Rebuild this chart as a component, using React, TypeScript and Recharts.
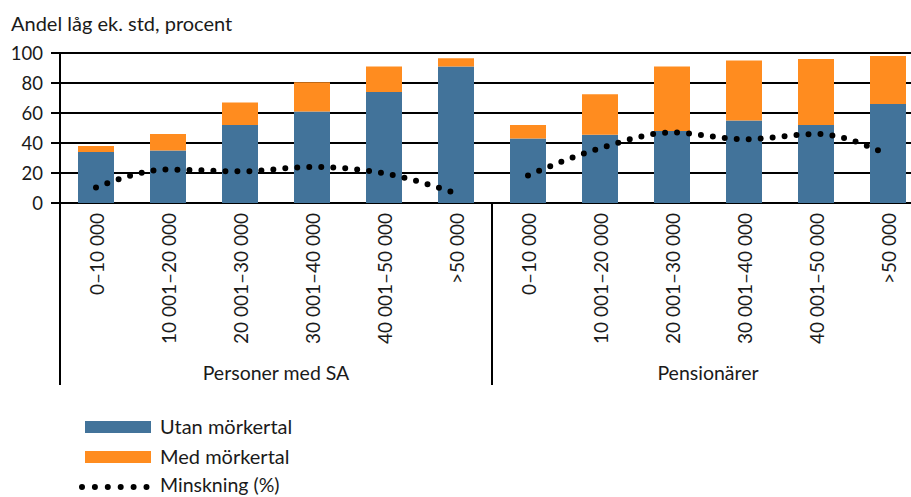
import React from 'react';
import { ComposedChart, Bar, Line, XAxis, YAxis, CartesianGrid, Legend } from 'recharts';

const categories = [
  '0–10 000', '10 001–20 000', '20 001–30 000', '30 001–40 000', '40 001–50 000', '>50 000',
  '0–10 000', '10 001–20 000', '20 001–30 000', '30 001–40 000', '40 001–50 000', '>50 000',
];
const groupNames = ['Personer med SA', 'Pensionärer'];
const utanMorkertal = [34, 35, 52, 61, 74, 91, 43, 45.5, 48, 55, 52, 66];
const medMorkertal = [4, 11, 15, 19.5, 17, 5.5, 9, 27, 43, 40, 44, 32];
const minskningSA = [10.4, 22.3, 21.1, 24, 19.8, 6.5];
const minskningPension = [18.4, 36.5, 47, 42.5, 46, 32.3];
const yTicks = [0, 20, 40, 60, 80, 100];
const groupTicks = [0, 3, 6, 9];

const FONT = 'Lato, sans-serif';
const BLUE = '#42739A';
const ORANGE = '#FF8C1F';

const data = categories.map((cat, i) => ({
  key: `c${i}`,
  cat,
  idx: i + 0.5,
  utan: utanMorkertal[i],
  med: medMorkertal[i],
  minSA: i < 6 ? minskningSA[i] : null,
  minPen: i >= 6 ? minskningPension[i - 6] : null,
}));

const CatTick = (props: any) => {
  const { x, y, index } = props;
  return (
    <text
      transform={`translate(${x},${y + 10}) rotate(-90)`}
      textAnchor="end"
      dominantBaseline="central"
      fontFamily={FONT}
      fontSize={19}
      fill="#1a1a1a"
    >
      {categories[index]}
    </text>
  );
};

const GroupTick = (props: any) => {
  const { x, y, payload } = props;
  const v = payload.value;
  if (v === 0 || v === 6) {
    return <line x1={x} x2={x} y1={y - 150} y2={y + 32} stroke="#000" strokeWidth={2} />;
  }
  const name = v === 3 ? groupNames[0] : groupNames[1];
  return (
    <text x={x} y={y + 27} textAnchor="middle" fontFamily={FONT} fontSize={19.5} fill="#1a1a1a">
      {name}
    </text>
  );
};

const LegendBox = () => (
  <svg width={400} height={87} style={{ display: 'block' }}>
    <rect x={85} y={11} width={66} height={12} fill={BLUE} />
    <text x={160} y={24} fontFamily={FONT} fontSize={20} fill="#1a1a1a">Utan mörkertal</text>
    <rect x={85} y={41} width={66} height={12} fill={ORANGE} />
    <text x={160} y={54} fontFamily={FONT} fontSize={20} fill="#1a1a1a">Med mörkertal</text>
    <line x1={82} x2={147} y1={77} y2={77} stroke="#000" strokeWidth={6} strokeLinecap="round" strokeDasharray="0 12.9" />
    <text x={160} y={82} fontFamily={FONT} fontSize={19.5} fill="#1a1a1a">Minskning (%)</text>
  </svg>
);

export default function App() {
  return (
    <div style={{ position: 'absolute', left: 0, top: 0, width: 911, height: 497, overflow: 'hidden', background: '#fff' }}>
      <div style={{ position: 'absolute', left: 11, top: 10, fontFamily: FONT, fontSize: 20, color: '#1a1a1a', whiteSpace: 'nowrap', lineHeight: '26px', zIndex: 2 }}>
        Andel låg ek. std, procent
      </div>
      <ComposedChart
        width={924}
        height={497}
        data={data}
        margin={{ top: 53, right: 0, bottom: 0, left: 0 }}
        barSize={36}
      >
        <CartesianGrid horizontal vertical={false} stroke="#000" strokeWidth={2} />
        <XAxis
          xAxisId="cat"
          dataKey="key"
          type="category"
          height={150}
          axisLine={false}
          tickLine={false}
          tickSize={0}
          tickMargin={0}
          interval={0}
          tick={<CatTick />}
        />
        <XAxis
          xAxisId="grp"
          dataKey="idx"
          type="number"
          domain={[0, 12]}
          ticks={groupTicks}
          height={144}
          axisLine={false}
          tickLine={false}
          tickSize={0}
          tickMargin={0}
          interval={0}
          tick={<GroupTick />}
        />
        <YAxis
          width={60}
          domain={[0, 100]}
          ticks={yTicks}
          interval={0}
          axisLine={{ stroke: '#000', strokeWidth: 2 }}
          tickLine={{ stroke: '#000', strokeWidth: 2 }}
          tickSize={9}
          tickMargin={8}
          tick={{ fontFamily: FONT, fontSize: 18.5, fill: '#1a1a1a' }}
        />
        <Bar xAxisId="cat" dataKey="utan" stackId="s" fill={BLUE} isAnimationActive={false} />
        <Bar xAxisId="cat" dataKey="med" stackId="s" fill={ORANGE} isAnimationActive={false} />
        <Line
          xAxisId="cat"
          dataKey="minSA"
          type="monotone"
          stroke="#000"
          strokeWidth={6}
          strokeLinecap="round"
          strokeDasharray="0 12"
          dot={false}
          activeDot={false}
          connectNulls={false}
          isAnimationActive={false}
        />
        <Line
          xAxisId="cat"
          dataKey="minPen"
          type="monotone"
          stroke="#000"
          strokeWidth={6}
          strokeLinecap="round"
          strokeDasharray="0 12"
          dot={false}
          activeDot={false}
          connectNulls={false}
          isAnimationActive={false}
        />
        <Legend
          layout="horizontal"
          verticalAlign="middle"
          align="center"
          wrapperStyle={{ top: 410, left: 0, width: 400, height: 87 }}
          content={() => <LegendBox />}
        />
      </ComposedChart>
    </div>
  );
}
